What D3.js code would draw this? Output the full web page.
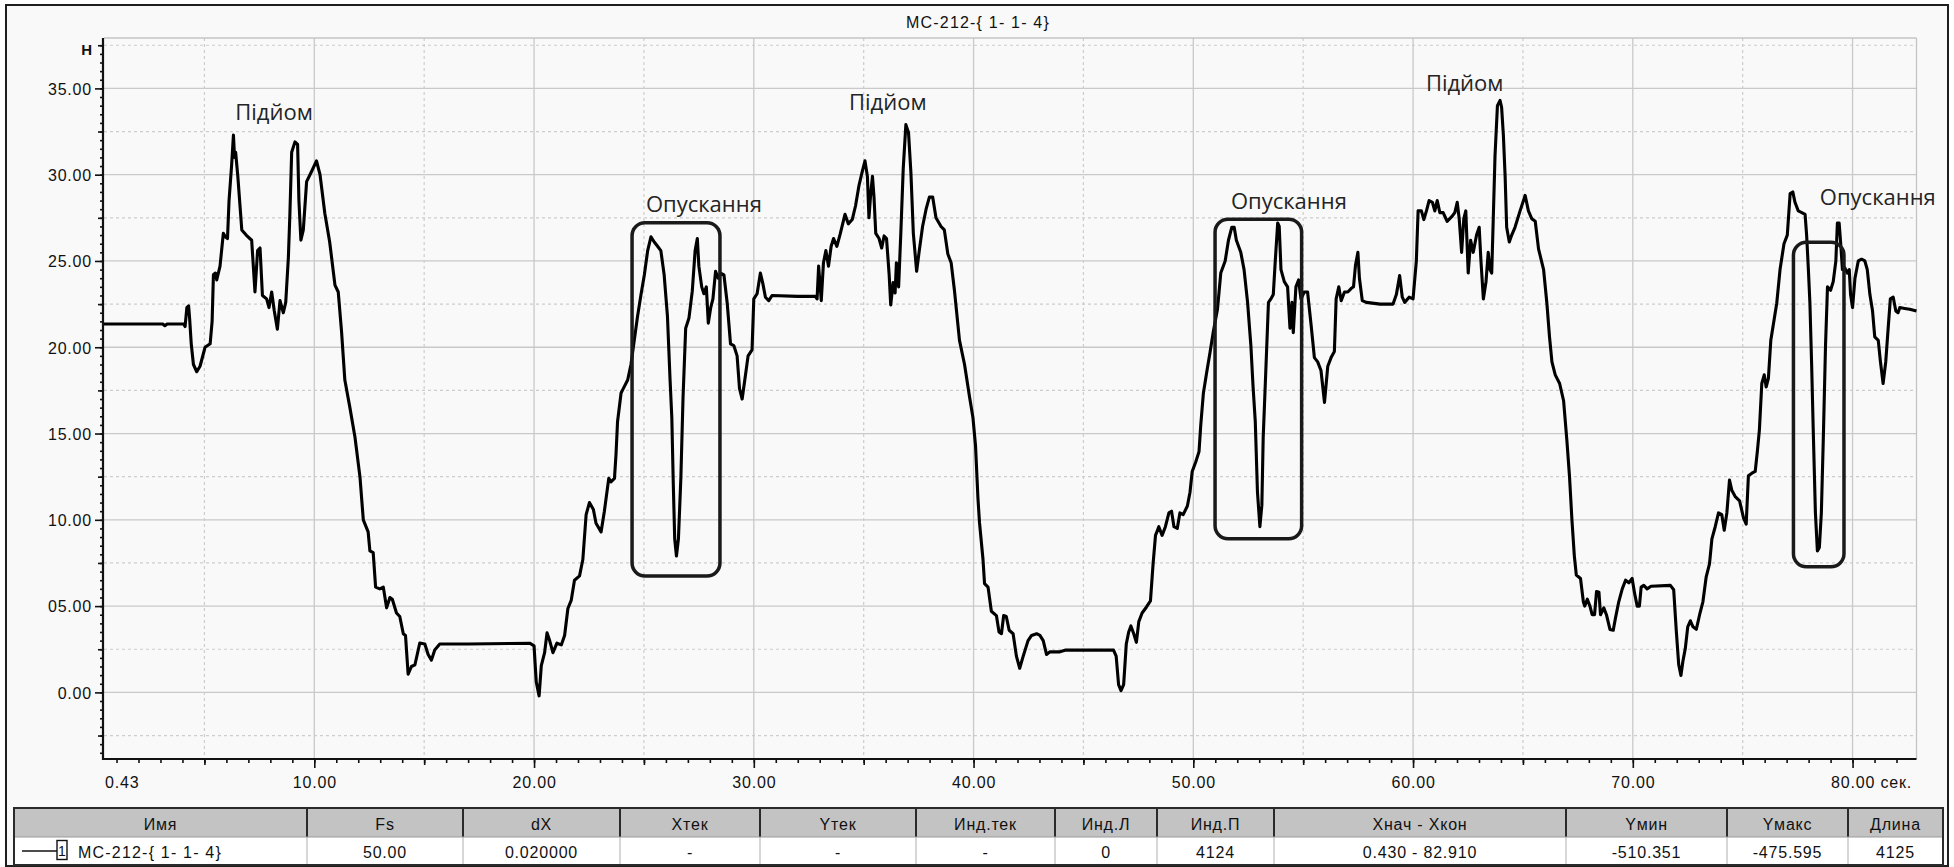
<!DOCTYPE html>
<html>
<head>
<meta charset="utf-8">
<script src="https://cdn.jsdelivr.net/npm/d3@7"></script>
<style>
  body { margin: 0; background: #ffffff; }
  svg text { font-family: "Liberation Sans", Arial, sans-serif; }
  .ui { font-size: 16px; letter-spacing: 0.8px; fill: #111; }
  .note { font-family: "Open Sans", sans-serif !important; font-size: 22px; fill: #242424; }
</style>
</head>
<body>
<svg id="chart" width="1954" height="867"></svg>
<script>
// Recorded force signal of channel MC-212-{ 1- 1- 4}: time (s) and force (Н)
const timeSec = [
  0.43, 3.1, 3.2, 3.3, 4.05, 4.12, 4.2, 4.28, 4.33, 4.4, 4.5, 4.65, 4.8, 5.03, 5.26, 5.35, 5.41, 5.5, 5.56, 5.71,
  5.86, 5.95, 6.05, 6.12, 6.24, 6.32, 6.37, 6.42, 6.52, 6.7, 6.9, 7.15, 7.3, 7.42, 7.53, 7.64, 7.83, 7.94, 8.06, 8.18,
  8.32, 8.44, 8.59, 8.7, 8.82, 8.89, 8.97, 9.12, 9.24, 9.3, 9.39, 9.5, 9.65, 9.88, 10.1, 10.26, 10.48, 10.7, 10.94, 11.09,
  11.24, 11.39, 11.62, 11.85, 12.08, 12.23, 12.45, 12.53, 12.68, 12.79, 12.98, 13.14, 13.29, 13.44, 13.55, 13.74, 13.89, 14.05, 14.15, 14.27,
  14.42, 14.58, 14.8, 15.03, 15.18, 15.33, 15.48, 15.71, 17.0, 19.8, 20.0, 20.1, 20.23, 20.33, 20.48, 20.59, 20.71, 20.86, 21.04, 21.24,
  21.39, 21.54, 21.69, 21.84, 22.07, 22.22, 22.37, 22.52, 22.7, 22.82, 23.05, 23.2, 23.4, 23.5, 23.66, 23.73, 23.8, 23.96, 24.06, 24.26,
  24.41, 24.56, 24.71, 24.86, 25.02, 25.17, 25.32, 25.47, 25.62, 25.77, 25.92, 26.07, 26.19, 26.27, 26.33, 26.4, 26.48, 26.57, 26.68, 26.78,
  26.9, 27.05, 27.2, 27.33, 27.43, 27.5, 27.63, 27.73, 27.84, 27.93, 28.04, 28.14, 28.26, 28.38, 28.49, 28.64, 28.79, 28.94, 29.09, 29.24,
  29.35, 29.47, 29.59, 29.74, 29.92, 30.0, 30.15, 30.3, 30.41, 30.53, 30.68, 30.83, 32.0, 32.8, 32.88, 32.95, 33.07, 33.17, 33.28, 33.4,
  33.52, 33.63, 33.78, 33.93, 34.15, 34.3, 34.48, 34.63, 34.79, 34.94, 35.06, 35.17, 35.24, 35.32, 35.4, 35.47, 35.55, 35.7, 35.82, 35.93,
  36.04, 36.16, 36.23, 36.34, 36.43, 36.49, 36.59, 36.69, 36.8, 36.92, 37.04, 37.15, 37.26, 37.41, 37.53, 37.68, 37.84, 37.99, 38.14, 38.29,
  38.52, 38.67, 38.83, 38.98, 39.13, 39.36, 39.59, 39.82, 39.97, 40.09, 40.2, 40.27, 40.43, 40.5, 40.66, 40.81, 41.04, 41.16, 41.27, 41.37,
  41.49, 41.62, 41.8, 41.95, 42.1, 42.26, 42.48, 42.64, 42.87, 43.02, 43.17, 43.32, 43.48, 43.93, 44.2, 46.37, 46.49, 46.6, 46.71, 46.83,
  46.95, 47.06, 47.16, 47.29, 47.41, 47.52, 47.67, 47.87, 48.05, 48.17, 48.28, 48.43, 48.58, 48.73, 48.89, 49.01, 49.12, 49.27, 49.39, 49.54,
  49.73, 49.85, 49.95, 50.11, 50.26, 50.34, 50.46, 50.61, 50.76, 50.91, 51.1, 51.25, 51.45, 51.6, 51.75, 51.86, 51.96, 52.16, 52.31, 52.47,
  52.62, 52.72, 52.82, 52.92, 53.03, 53.12, 53.18, 53.3, 53.42, 53.53, 53.64, 53.73, 53.84, 53.91, 53.99, 54.14, 54.29, 54.4, 54.49, 54.55,
  54.67, 54.79, 54.9, 55.05, 55.2, 55.36, 55.51, 55.66, 55.81, 55.97, 56.12, 56.27, 56.42, 56.5, 56.62, 56.73, 56.88, 57.03, 57.18, 57.29,
  57.38, 57.49, 57.56, 57.69, 57.87, 58.5, 59.09, 59.24, 59.39, 59.51, 59.62, 59.82, 60.0, 60.15, 60.23, 60.38, 60.49, 60.61, 60.73, 60.88,
  60.99, 61.1, 61.22, 61.37, 61.55, 61.75, 61.9, 62.01, 62.1, 62.21, 62.31, 62.4, 62.51, 62.62, 62.74, 62.89, 63.01, 63.09, 63.2, 63.32,
  63.42, 63.5, 63.58, 63.65, 63.73, 63.84, 63.96, 64.03, 64.11, 64.19, 64.26, 64.38, 64.49, 64.64, 64.87, 65.1, 65.25, 65.4, 65.56, 65.71,
  65.94, 66.09, 66.21, 66.32, 66.47, 66.67, 66.85, 67.0, 67.12, 67.23, 67.34, 67.43, 67.62, 67.75, 67.81, 67.93, 68.05, 68.15, 68.26, 68.35,
  68.46, 68.53, 68.68, 68.8, 68.96, 69.11, 69.21, 69.36, 69.52, 69.67, 69.82, 69.97, 70.08, 70.2, 70.3, 70.38, 70.5, 70.65, 70.83, 71.71,
  71.86, 71.98, 72.09, 72.19, 72.28, 72.39, 72.5, 72.62, 72.74, 72.89, 73.04, 73.19, 73.34, 73.49, 73.6, 73.75, 73.9, 74.05, 74.16, 74.28,
  74.4, 74.51, 74.66, 74.86, 75.04, 75.16, 75.26, 75.42, 75.57, 75.67, 75.76, 75.87, 75.98, 76.07, 76.17, 76.28, 76.43, 76.55, 76.7, 76.88,
  77.03, 77.16, 77.28, 77.38, 77.53, 77.69, 77.84, 77.91, 77.99, 78.06, 78.14, 78.21, 78.31, 78.4, 78.49, 78.58, 78.67, 78.77, 78.86, 79.0,
  79.12, 79.24, 79.31, 79.39, 79.45, 79.54, 79.65, 79.76, 79.85, 79.91, 80.0, 80.11, 80.26, 80.41, 80.56, 80.67, 80.79, 80.91, 81.01, 81.17,
  81.27, 81.39, 81.51, 81.62, 81.72, 81.85, 81.97, 82.07, 82.15, 82.37, 82.6, 82.91
];
const forceN = [
  21.35, 21.35, 21.25, 21.35, 21.35, 21.2, 22.3, 22.4, 21.6, 20.2, 19.0, 18.58, 18.9, 20.0, 20.2, 21.5, 24.2, 24.3, 23.9, 24.7,
  26.6, 26.4, 26.3, 28.5, 30.6, 32.3, 31.0, 31.3, 29.9, 26.8, 26.5, 26.2, 23.2, 25.6, 25.75, 23.0, 22.8, 22.3, 23.2, 22.1,
  21.05, 22.7, 22.0, 22.6, 25.2, 27.75, 31.3, 31.9, 31.75, 28.5, 26.2, 26.8, 29.6, 30.2, 30.8, 30.0, 27.75, 26.1, 23.6, 23.2,
  20.9, 18.1, 16.5, 14.8, 12.46, 10.0, 9.3, 8.2, 8.1, 6.1, 6.0, 6.1, 4.9, 5.5, 5.4, 4.6, 4.4, 3.4, 3.3, 1.05,
  1.5, 1.6, 2.86, 2.8, 2.2, 1.87, 2.46, 2.8, 2.8, 2.85, 2.7, 0.6, -0.2, 1.55, 2.3, 3.45, 3.0, 2.3, 2.85, 2.75,
  3.3, 4.86, 5.33, 6.5, 6.75, 7.7, 10.3, 11.0, 10.6, 9.8, 9.3, 10.5, 12.4, 12.2, 12.4, 13.8, 15.7, 17.35, 17.6, 18.1,
  19.0, 20.4, 21.8, 23.0, 24.2, 25.6, 26.4, 26.1, 25.85, 25.6, 24.2, 21.8, 18.1, 15.9, 12.4, 8.9, 7.9, 8.9, 12.4, 17.1,
  21.1, 21.7, 23.25, 25.6, 26.3, 24.7, 23.5, 23.1, 23.5, 21.4, 22.3, 22.8, 24.4, 24.0, 24.3, 24.2, 22.55, 20.2, 20.1, 19.5,
  17.6, 17.0, 18.1, 19.5, 19.85, 22.8, 23.1, 24.3, 23.7, 22.9, 22.7, 23.0, 22.95, 22.95, 22.8, 24.7, 22.7, 24.9, 25.6, 24.7,
  25.85, 26.3, 25.85, 26.55, 27.7, 27.15, 27.4, 28.2, 29.4, 30.2, 30.8, 29.9, 27.5, 28.9, 29.9, 28.7, 26.6, 26.3, 25.75, 26.45,
  26.3, 24.2, 22.45, 23.75, 23.15, 24.9, 23.5, 26.6, 30.35, 32.9, 32.45, 30.1, 26.6, 24.4, 25.6, 27.0, 28.0, 28.7, 28.7, 27.5,
  27.0, 26.8, 25.4, 24.9, 23.3, 20.4, 19.0, 17.1, 15.95, 14.3, 11.25, 9.85, 7.7, 6.3, 6.1, 4.7, 4.45, 3.5, 3.4, 4.45,
  4.4, 3.6, 3.4, 2.1, 1.4, 2.1, 3.0, 3.3, 3.4, 3.3, 3.0, 2.2, 2.35, 2.35, 2.45, 2.45, 2.1, 0.45, 0.1, 0.45,
  2.8, 3.5, 3.85, 3.4, 2.9, 4.1, 4.6, 4.95, 5.3, 7.45, 9.1, 9.6, 9.1, 9.6, 10.4, 10.5, 9.6, 9.5, 10.4, 10.3,
  10.8, 11.6, 12.8, 13.35, 13.95, 15.5, 17.35, 18.55, 19.7, 20.9, 22.2, 24.3, 25.0, 26.2, 26.95, 26.95, 26.2, 25.5, 24.5, 22.6,
  20.1, 17.7, 15.7, 11.6, 9.6, 10.85, 14.75, 18.65, 22.6, 22.8, 23.05, 25.0, 27.2, 27.0, 24.5, 23.8, 23.5, 21.1, 22.6, 20.85,
  23.5, 23.9, 22.8, 23.2, 23.2, 21.3, 19.4, 19.15, 18.65, 16.8, 18.9, 19.4, 19.75, 22.8, 23.5, 22.7, 23.2, 23.2, 23.4, 23.5,
  24.75, 25.5, 24.0, 22.7, 22.6, 22.5, 22.5, 23.05, 24.15, 22.9, 22.6, 22.9, 22.8, 25.0, 27.9, 27.9, 27.4, 27.9, 28.5, 28.4,
  27.9, 28.5, 27.8, 27.8, 27.3, 27.55, 27.8, 28.4, 27.45, 25.5, 27.45, 27.9, 24.3, 26.2, 25.5, 26.5, 26.95, 25.0, 22.8, 23.8,
  25.5, 24.5, 24.3, 27.45, 31.1, 34.0, 34.3, 33.9, 32.3, 29.9, 26.95, 26.1, 26.5, 26.95, 27.9, 28.8, 27.9, 27.45, 27.3, 25.7,
  24.5, 22.55, 20.6, 19.15, 18.4, 17.9, 16.9, 14.6, 12.5, 10.0, 7.9, 6.8, 6.6, 5.25, 5.0, 5.4, 5.0, 4.5, 4.5, 5.85,
  5.8, 4.5, 4.9, 4.5, 3.65, 3.6, 4.3, 5.25, 6.0, 6.5, 6.35, 6.6, 5.75, 5.0, 5.0, 6.1, 6.2, 6.0, 6.15, 6.2,
  5.95, 3.55, 1.6, 0.98, 1.8, 2.55, 3.8, 4.15, 3.8, 3.65, 4.5, 5.25, 6.7, 7.45, 8.9, 9.6, 10.4, 10.3, 9.4, 10.4,
  12.3, 11.7, 11.35, 11.1, 10.1, 9.75, 12.55, 12.7, 12.8, 14.0, 15.2, 17.9, 18.4, 17.7, 18.2, 20.4, 21.6, 22.55, 24.5, 26.0,
  26.5, 28.9, 29.0, 28.4, 27.9, 27.8, 27.7, 26.5, 24.5, 22.55, 18.9, 15.25, 10.4, 8.2, 8.4, 10.4, 14.75, 20.1, 23.5, 23.3,
  23.8, 25.0, 27.2, 27.2, 26.2, 24.5, 24.6, 24.3, 24.5, 23.05, 22.3, 24.0, 25.0, 25.1, 25.0, 24.5, 23.05, 22.1, 20.6, 20.4,
  19.15, 17.9, 19.15, 21.1, 22.8, 22.9, 22.1, 22.0, 22.3, 22.25, 22.2, 22.1
];

const chartTitle = "MC-212-{ 1- 1- 4}";
const xDomain = [0.43, 82.91];
const yDomain = [-3.86, 37.92];
const xMajorTicks = [10, 20, 30, 40, 50, 60, 70, 80];
const xMinorGrid = [5, 15, 25, 35, 45, 55, 65, 75];
const yMajorTicks = [0, 5, 10, 15, 20, 25, 30, 35];
const yTickLabels = ["0.00", "05.00", "10.00", "15.00", "20.00", "25.00", "30.00", "35.00"];
const yMinorGrid = [-2.5, 2.5, 7.5, 12.5, 17.5, 22.5, 27.5, 32.5, 37.5];
const xStartLabel = "0.43";
const xUnit = "сек.";
const yUnit = "Н";

// Phase labels (time, force at baseline) and highlighted lowering zones [t0, t1, top, bottom]
const phaseLabels = ["Підйом", "Підйом", "Підйом", "Опускання", "Опускання", "Опускання"];
const phaseLabelT = [8.17, 36.1, 62.35, 27.73, 54.35, 81.15];
const phaseLabelV = [33.17, 33.75, 34.85, 27.84, 28.02, 28.25];
const zoneT0 = [24.46, 50.99, 77.31];
const zoneT1 = [28.46, 54.93, 79.61];
const zoneTop = [27.22, 27.42, 26.09];
const zoneBottom = [6.74, 8.9, 7.28];

// Channel summary table
const tableHeaders = ["Имя", "Fs", "dX", "Xтек", "Yтек", "Инд.тек", "Инд.Л", "Инд.П", "Xнач - Xкон", "Yмин", "Yмакс", "Длина"];
const tableValues = ["MC-212-{ 1- 1- 4}", "50.00", "0.020000", "-", "-", "-", "0", "4124", "0.430 - 82.910", "-510.351", "-475.595", "4125"];

const svg = d3.select("#chart");
const W = 1954, H = 867;
const plot = { left: 104, right: 1916.5, top: 38, bottom: 759 };

const x = d3.scaleLinear().domain(xDomain).range([plot.left, plot.right]);
const y = d3.scaleLinear().domain(yDomain).range([plot.bottom, plot.top]);

// Window background and frame
svg.append("rect").attr("x", 0).attr("y", 0).attr("width", W).attr("height", H).attr("fill", "#ffffff");
svg.append("rect").attr("x", 6).attr("y", 5).attr("width", 1942).attr("height", 861)
  .attr("fill", "#f9f9f9").attr("stroke", "#1e1e1e").attr("stroke-width", 2);

// Title
svg.append("text").attr("class", "ui").attr("x", 978).attr("y", 28)
  .attr("text-anchor", "middle").style("letter-spacing", "1.2px").text(chartTitle);

// Grid
const grid = svg.append("g");
grid.selectAll(".gy").data(yMajorTicks).join("line")
  .attr("x1", plot.left).attr("x2", plot.right)
  .attr("y1", d => y(d)).attr("y2", d => y(d))
  .attr("stroke", "#c9c9c9").attr("stroke-width", 1.3);
grid.selectAll(".gyd").data(yMinorGrid).join("line")
  .attr("x1", plot.left).attr("x2", plot.right)
  .attr("y1", d => y(d)).attr("y2", d => y(d))
  .attr("stroke", "#cdcdcd").attr("stroke-width", 1.2).attr("stroke-dasharray", "3,3");
grid.selectAll(".gx").data(xMajorTicks).join("line")
  .attr("x1", d => x(d)).attr("x2", d => x(d))
  .attr("y1", plot.top).attr("y2", plot.bottom)
  .attr("stroke", "#c9c9c9").attr("stroke-width", 1.3);
grid.selectAll(".gxd").data(xMinorGrid).join("line")
  .attr("x1", d => x(d)).attr("x2", d => x(d))
  .attr("y1", plot.top).attr("y2", plot.bottom)
  .attr("stroke", "#cdcdcd").attr("stroke-width", 1.2).attr("stroke-dasharray", "3,3");
// plot frame (top and right)
svg.append("line").attr("x1", plot.left).attr("x2", plot.right).attr("y1", plot.top).attr("y2", plot.top)
  .attr("stroke", "#c4c4c4").attr("stroke-width", 1.3);
svg.append("line").attr("x1", plot.right).attr("x2", plot.right).attr("y1", plot.top).attr("y2", plot.bottom)
  .attr("stroke", "#c4c4c4").attr("stroke-width", 1.3);

// X axis: minor, mid and major ticks
function styleAxis(g) {
  g.select(".domain").remove();
  g.selectAll(".tick line").attr("stroke", "#111").attr("stroke-width", 1.6);
}
svg.append("g").attr("transform", `translate(0,${plot.bottom})`)
  .call(d3.axisBottom(x).tickValues(d3.range(1, 83)).tickSize(4).tickFormat(""))
  .call(styleAxis);
svg.append("g").attr("transform", `translate(0,${plot.bottom})`)
  .call(d3.axisBottom(x).tickValues(xMinorGrid).tickSize(6).tickFormat(""))
  .call(styleAxis);
const xAxisG = svg.append("g").attr("transform", `translate(0,${plot.bottom})`)
  .call(d3.axisBottom(x).tickValues(xMajorTicks).tickSize(9).tickFormat(d3.format(".2f")))
  .call(styleAxis);
xAxisG.selectAll(".tick text").attr("class", "ui").attr("y", 29).attr("dy", 0)
  .attr("fill", "#111");
svg.append("text").attr("class", "ui").attr("x", x(xDomain[0]) + 1).attr("y", plot.bottom + 29).text(xStartLabel);
svg.append("text").attr("class", "ui").attr("x", x(80) + 28).attr("y", plot.bottom + 29).text(xUnit);

// Y axis: minor, mid and major ticks
svg.append("g").attr("transform", `translate(${plot.left - 1},0)`)
  .call(d3.axisLeft(y).tickValues(d3.range(-3.5, 38, 0.5)).tickSize(3).tickFormat(""))
  .call(styleAxis);
svg.append("g").attr("transform", `translate(${plot.left - 1},0)`)
  .call(d3.axisLeft(y).tickValues(yMinorGrid).tickSize(5).tickFormat(""))
  .call(styleAxis);
const yAxisG = svg.append("g").attr("transform", `translate(${plot.left - 1},0)`)
  .call(d3.axisLeft(y).tickValues(yMajorTicks).tickSize(8).tickPadding(3)
    .tickFormat((d, i) => yTickLabels[i]))
  .call(styleAxis);
yAxisG.selectAll(".tick text").attr("class", "ui").attr("dy", "0.36em").attr("fill", "#111");
svg.append("text").attr("x", 92).attr("y", 55).attr("text-anchor", "end")
  .attr("font-size", 15).attr("font-weight", "bold").attr("fill", "#111").text(yUnit);

// Axis lines
svg.append("line").attr("x1", plot.left - 1).attr("x2", plot.left - 1).attr("y1", plot.top).attr("y2", plot.bottom + 1)
  .attr("stroke", "#111").attr("stroke-width", 2.2);
svg.append("line").attr("x1", plot.left - 1).attr("x2", plot.right).attr("y1", plot.bottom).attr("y2", plot.bottom)
  .attr("stroke", "#111").attr("stroke-width", 2.2);

// Signal trace
const series = timeSec.map((t, i) => [t, forceN[i]]);
svg.append("path").datum(series)
  .attr("fill", "none").attr("stroke", "#000").attr("stroke-width", 3.1)
  .attr("stroke-linejoin", "round")
  .attr("d", d3.line().x(d => x(d[0])).y(d => y(d[1])));

// Highlighted lowering zones
svg.selectAll(".zone").data(zoneT0).join("rect")
  .attr("x", (d, i) => x(zoneT0[i]))
  .attr("y", (d, i) => y(zoneTop[i]))
  .attr("width", (d, i) => x(zoneT1[i]) - x(zoneT0[i]))
  .attr("height", (d, i) => y(zoneBottom[i]) - y(zoneTop[i]))
  .attr("rx", 13).attr("ry", 13)
  .attr("fill", "none").attr("stroke", "#1a1a1a").attr("stroke-width", 3.5);

// Phase labels
svg.selectAll(".phase").data(phaseLabels).join("text")
  .attr("class", "note")
  .attr("x", (d, i) => x(phaseLabelT[i]))
  .attr("y", (d, i) => y(phaseLabelV[i]))
  .attr("text-anchor", "middle")
  .text(d => d);

// Summary table
const colEdges = [14, 307, 463, 620, 760, 916, 1055, 1157, 1274, 1566, 1727, 1848, 1943];
const headTop = 808, headH = 29, rowH = 28;
const table = svg.append("g");
table.append("rect").attr("x", colEdges[0]).attr("y", headTop)
  .attr("width", colEdges[colEdges.length - 1] - colEdges[0]).attr("height", headH)
  .attr("fill", "#c3c3c3");
table.append("rect").attr("x", colEdges[0]).attr("y", headTop + headH)
  .attr("width", colEdges[colEdges.length - 1] - colEdges[0]).attr("height", rowH)
  .attr("fill", "#ffffff");
table.selectAll(".sepH").data(colEdges.slice(1, -1)).join("line")
  .attr("x1", d => d).attr("x2", d => d).attr("y1", headTop).attr("y2", headTop + headH)
  .attr("stroke", "#2a2a2a").attr("stroke-width", 2);
table.selectAll(".sepR").data(colEdges.slice(1, -1)).join("line")
  .attr("x1", d => d).attr("x2", d => d).attr("y1", headTop + headH).attr("y2", headTop + headH + rowH)
  .attr("stroke", "#bdbdbd").attr("stroke-width", 1.2);
table.append("line").attr("x1", colEdges[0]).attr("x2", colEdges[colEdges.length - 1])
  .attr("y1", headTop + headH).attr("y2", headTop + headH).attr("stroke", "#9a9a9a").attr("stroke-width", 1);
table.append("rect").attr("x", colEdges[0]).attr("y", headTop)
  .attr("width", colEdges[colEdges.length - 1] - colEdges[0]).attr("height", headH + rowH)
  .attr("fill", "none").attr("stroke", "#2a2a2a").attr("stroke-width", 2);

table.selectAll(".hd").data(tableHeaders).join("text")
  .attr("class", "ui")
  .attr("x", (d, i) => (colEdges[i] + colEdges[i + 1]) / 2)
  .attr("y", headTop + 22)
  .attr("text-anchor", "middle")
  .text(d => d);
table.selectAll(".val").data(tableValues).join("text")
  .attr("class", "ui")
  .attr("x", (d, i) => i === 0 ? 78 : (colEdges[i] + colEdges[i + 1]) / 2)
  .attr("y", headTop + headH + 21)
  .attr("text-anchor", (d, i) => i === 0 ? "start" : "middle")
  .style("letter-spacing", (d, i) => i === 0 ? "1.2px" : "0.8px")
  .text(d => d);
// legend swatch for the channel
table.append("line").attr("x1", 22).attr("x2", 57).attr("y1", 851).attr("y2", 851)
  .attr("stroke", "#111").attr("stroke-width", 1.4);
table.append("rect").attr("x", 57).attr("y", 840.5).attr("width", 10).attr("height", 19)
  .attr("fill", "#fff").attr("stroke", "#111").attr("stroke-width", 1.4);
table.append("text").attr("x", 62).attr("y", 856).attr("text-anchor", "middle")
  .attr("font-size", 14).attr("fill", "#111").text("1");
</script>
</body>
</html>
